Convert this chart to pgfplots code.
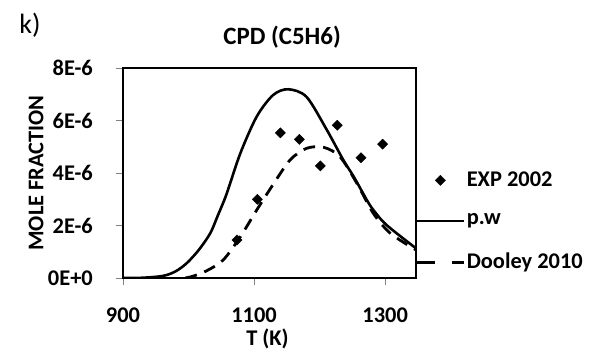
\documentclass[border=0pt]{standalone}
\usepackage{fontspec}
\setmainfont{Carlito}
\usepackage{pgfplots}
\pgfplotsset{compat=1.18}
\begin{document}
\fontsize{22.5}{27}\selectfont\bfseries
\begin{tikzpicture}
\useasboundingbox (-123bp,-72bp) rectangle (466bp,278bp);
\begin{axis}[
  scale only axis, width=293bp, height=210bp,
  xmin=900, xmax=1347, ymin=0, ymax=8,
  axis line style={black, line width=1.8bp},
  xtick={900,1100,1300}, ytick={0,2,4,6,8},
  yticklabels={0E+0,2E-6,4E-6,6E-6,8E-6},
  xticklabels={900,1100,1300},
  xtick pos=left, ytick pos=left,
  tick align=outside, major tick length=7bp,
  tick style={gray, line width=0.8bp},
  /pgf/number format/assume math mode=true,
  ticklabel style={font=\fontsize{22.5}{27}\selectfont\bfseries},
  yticklabel style={anchor=east, inner sep=0pt, xshift=-23bp},
  xticklabel style={anchor=center, inner sep=0pt, yshift=-30.5bp},
  title={CPD (C5H6)},
  title style={at={(axis description cs:0.543,1)}, anchor=center, yshift=25bp, inner sep=0pt, font=\fontsize{25}{30}\selectfont\bfseries},
  ylabel={MOLE FRACTION},
  ylabel style={at={(axis description cs:-0.297,0.5)}, anchor=center, inner sep=0pt, rotate=0, font=\fontsize{22.5}{27}\selectfont\bfseries},
  xlabel={T (K)},
  xlabel style={at={(axis description cs:0.493,0)}, anchor=north, yshift=-51bp, inner sep=0pt, font=\fontsize{22.5}{27}\selectfont\bfseries},
  legend style={at={(1,0.508)}, anchor=north west, draw=none, fill=none, inner sep=0pt, outer sep=0pt,
    row sep=24.5bp, column sep=2bp,
    nodes={inner sep=0pt, font=\fontsize{22.5}{27}\selectfont\bfseries}},
  legend cell align=left,
  legend image code/.code={\draw[mark repeat=2,mark phase=2,#1] plot coordinates {(0bp,0bp) (23bp,0bp) (46bp,0bp)};},
  clip=true,
]
\addplot[only marks, mark=square*, mark size=3.6bp, mark options={rotate=45, fill=black, draw=black}] coordinates {
  (1074,1.45) (1105,3.0) (1140,5.53) (1169,5.28) (1201,4.27) (1227,5.82) (1263,4.58) (1296,5.1)
};
\addlegendentry{EXP 2002}
\addplot[black, line width=2.6bp, smooth, tension=0.5] coordinates {
  (900,0) (930,0.01) (961,0.08) (980,0.25) (997,0.56) (1015,1.05) (1033,1.7) (1045,2.4) (1058,3.2)
  (1079,4.75) (1104,6.15) (1129,6.97) (1152,7.19) (1180,6.9) (1211,5.64) (1236,4.5) (1252,3.86)
  (1272,2.97) (1282,2.59) (1302,2.02) (1347,1.13)
};
\addlegendentry{p.w}
\addplot[black, line width=2.8bp, smooth, tension=0.5, dash pattern=on 12bp off 8bp,
  legend image post style={dash pattern=on 18bp off 17bp}] coordinates {
  (995,0) (1007,0.07) (1028,0.28) (1053,0.69) (1079,1.57) (1104,2.59) (1130,3.6) (1155,4.5)
  (1180,4.94) (1206,4.98) (1231,4.62) (1257,3.6) (1282,2.46) (1308,1.7) (1347,1.07)
};
\addlegendentry{Dooley 2010}
\end{axis}
\node[anchor=center, font=\fontsize{28}{33}\selectfont\mdseries] at (-93bp,253bp) {k)};
\end{tikzpicture}
\end{document}
